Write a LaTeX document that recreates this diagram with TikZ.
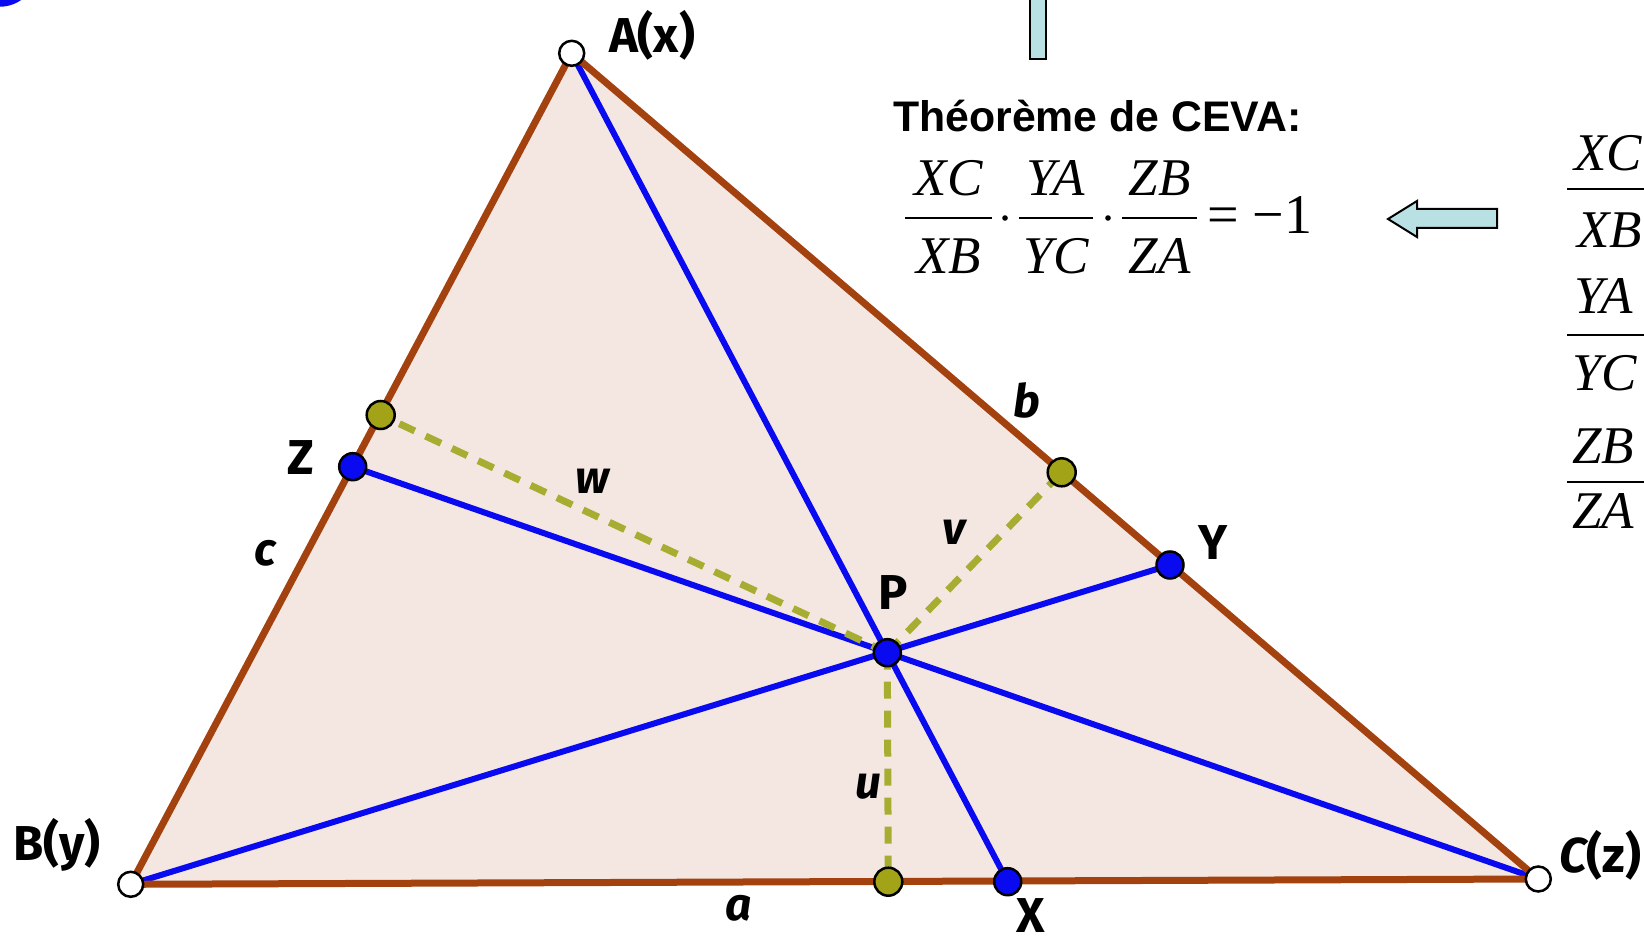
\documentclass[tikz,border=0pt]{standalone}
\usepackage{fontspec}
\setmainfont{Liberation Serif}
\newfontfamily\lblfont{Fira Sans}
\newfontfamily\arialfont{Liberation Sans}
\newfontfamily\tms{Liberation Serif}
\definecolor{brownside}{HTML}{A3420F}
\definecolor{trifill}{HTML}{F4E7E2}
\definecolor{cevblue}{HTML}{0A0AF0}
\definecolor{olivedot}{HTML}{A2A316}
\definecolor{olivedash}{HTML}{A6AD30}
\definecolor{arrowcyan}{HTML}{B9E0E3}
\tikzset{
  side/.style={draw=brownside, line width=7pt, line join=round},
  cevian/.style={draw=cevblue, line width=6pt},
  perp/.style={draw=olivedash, line width=7pt, dash pattern=on 17pt off 12pt},
  vertexpt/.style={circle, draw=black, line width=2.5pt, fill=white, minimum size=25pt, inner sep=0},
  bluept/.style={circle, draw=black, line width=2.5pt, fill=cevblue, minimum size=27pt, inner sep=0},
  olivept/.style={circle, draw=black, line width=2.5pt, fill=olivedot, minimum size=28pt, inner sep=0},
  lbl/.style={font=\lblfont\bfseries\fontsize{49}{54}\selectfont, inner sep=0},
  lblit/.style={font=\lblfont\bfseries\itshape\fontsize{46}{52}\selectfont, inner sep=0},
  fr/.style={font=\tms\itshape\fontsize{53}{58}\selectfont, inner sep=0, anchor=base},
  frr/.style={font=\tms\itshape\fontsize{53}{58}\selectfont, inner sep=0, anchor=base west},
  barline/.style={draw=black, line width=2.5pt},
  boxarrow/.style={draw=black, line width=2pt, fill=arrowcyan, line join=miter}
}
\begin{document}
\begin{tikzpicture}[x=1pt,y=-1pt]
\useasboundingbox (0,0) rectangle (1644,941);
\clip (0,0) rectangle (1644,941);
% top-left blue blob
\fill[cevblue] (0,-30) circle (36.7);
% top middle bar
\draw[boxarrow] (1030,-5) rectangle (1046,59);
% left arrow
\draw[boxarrow] (1497,209) -- (1417,209) -- (1417,201) -- (1388,219) -- (1417,237) -- (1417,228) -- (1497,228) -- cycle;

% points
\coordinate (A) at (571.7,53.3);
\coordinate (B) at (130.7,884.3);
\coordinate (C) at (1538.3,879);
\coordinate (P) at (887.3,652.7);
\coordinate (X) at (1007.7,881.7);
\coordinate (Y) at (1170,565);
\coordinate (Z) at (352.7,466.7);
\coordinate (FW) at (380.7,415);
\coordinate (FV) at (1061.7,472.3);
\coordinate (FU) at (888.3,881.7);

\fill[trifill] (A) -- (B) -- (C) -- cycle;
\draw[cevian] (A) -- (X);
\draw[cevian] (B) -- (Y);
\draw[cevian] (C) -- (Z);
\draw[perp] (P) -- (FW);
\draw[perp] (P) -- (FV);
\draw[perp] (P) -- (FU);
\draw[side] (A) -- (B) -- (C) -- cycle;

\node[vertexpt] (nA) at (A) {};
\node[vertexpt] (nB) at (B) {};
\node[vertexpt] (nC) at (C) {};
\node[olivept] (nFW) at (FW) {};
\node[olivept] (nFV) at (FV) {};
\node[olivept] (nFU) at (FU) {};
\node[bluept] (nZ) at (Z) {};
\node[bluept] (nY) at (Y) {};
\node[bluept] (nX) at (X) {};
\node[bluept] (nP) at (P) {};

% labels
\node[lbl] (lA) at (652,35) {A(x)};
\node[lbl] (lB) at (57,845) {B(y)};
\node[lbl] (lC) at (1600,855) {\itshape C\upshape(z)};
\node[lbl] (lZ) at (301,458) {Z};
\node[lbl] (lY) at (1213,543) {Y};
\node[lbl] (lX) at (1031,916) {X};
\node[lbl] (lP) at (893,593) {P};
\node[lblit] (la) at (739,908) {a};
\node[lblit] (lb) at (1026.5,400) {b};
\node[lblit] (lc) at (265,553) {c};
\node[lblit] (lu) at (868,787) {u};
\node[lblit] (lv) at (954,532) {v};
\node[lblit] (lw) at (592,481) {w};

% theorem
\node[font=\arialfont\bfseries\fontsize{42.8}{48}\selectfont, inner sep=0, anchor=base west] (title) at (893,132) {Théorème de CEVA:};
\node[fr] (n1) at (948.5,196) {XC};
\node[fr] (d1) at (948.5,274) {XB};
\draw[barline] (905,218) -- (992,218);
\fill (1005,218) circle (2.8);
\node[fr] (n2) at (1056,196) {YA};
\node[fr] (d2) at (1056,274) {YC};
\draw[barline] (1019,218) -- (1093,218);
\fill (1108,218) circle (2.8);
\node[fr] (n3) at (1159.5,196) {ZB};
\node[fr] (d3) at (1159.5,274) {ZA};
\draw[barline] (1122,218) -- (1197,218);
\node[font=\tms\fontsize{56}{60}\selectfont, inner sep=0, anchor=base west] (eq) at (1207,234) {= −1};

% right fractions
\node[frr] (rn1) at (1574,171) {XC};
\draw[barline] (1567,189) -- (1660,189);
\node[frr] (rd1) at (1577,248) {XB};
\node[frr] (rn2) at (1574,314) {YA};
\draw[barline] (1567,335) -- (1660,335);
\node[frr] (rd2) at (1572,390) {YC};
\node[frr] (rn3) at (1572,463) {ZB};
\draw[barline] (1567,482) -- (1660,482);
\node[frr] (rd3) at (1572,528) {ZA};
\end{tikzpicture}
\end{document}
